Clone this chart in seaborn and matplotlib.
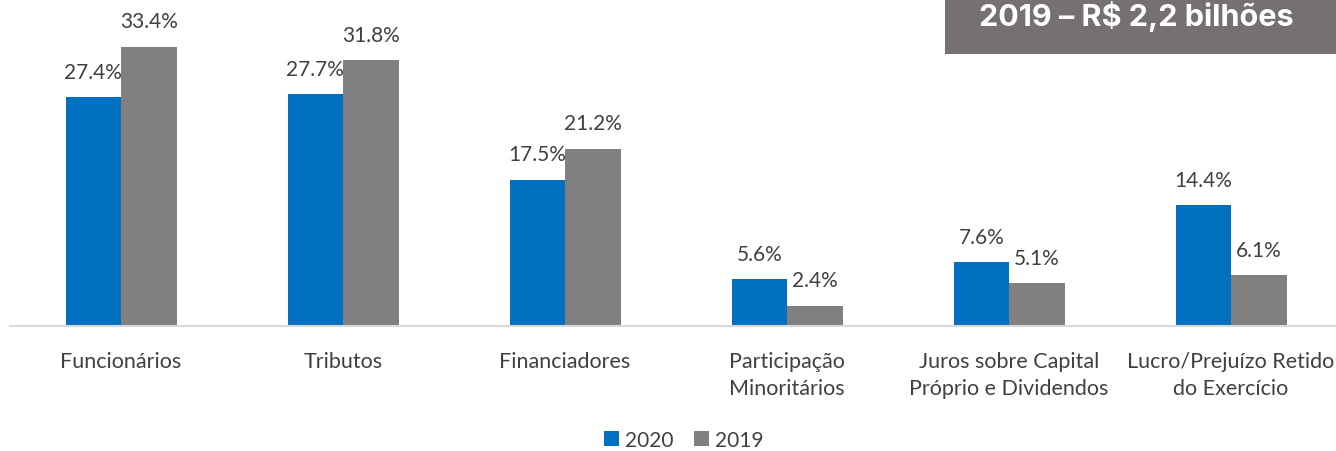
import pandas as pd
import seaborn as sns
import matplotlib.pyplot as plt

categorias = ["Funcionários", "Tributos", "Financiadores",
              "Participação\nMinoritários", "Juros sobre Capital\nPróprio e Dividendos",
              "Lucro/Prejuízo Retido\ndo Exercício"]
valores_2020 = [27.4, 27.7, 17.5, 5.6, 7.6, 14.4]
valores_2019 = [33.4, 31.8, 21.2, 2.4, 5.1, 6.1]
anos = ["2020", "2019"]
cores = {"2020": "#0070C0", "2019": "#808080"}

df = pd.DataFrame({
    "categoria": categorias * 2,
    "valor": valores_2020 + valores_2019,
    "ano": [anos[0]] * len(categorias) + [anos[1]] * len(categorias),
})

sns.set_style("white")
plt.rcParams["font.family"] = ["Lato", "DejaVu Sans"]

fig = plt.figure(figsize=(13.36, 4.52), dpi=100)
ax = fig.add_axes([0.0075, 0.277, 0.997, 0.723])

sns.barplot(data=df, x="categoria", y="valor", hue="ano", palette=cores,
            width=0.5, gap=0, saturation=1, linewidth=0, ax=ax, legend=True)

for cont in ax.containers:
    for bar in cont:
        h = bar.get_height()
        ax.annotate(f"{h:.1f}%", (bar.get_x() + bar.get_width() / 2, h),
                    xytext=(0, 11), textcoords="offset points",
                    ha="center", va="bottom", fontsize=15, color="#404040")

ax.set_xlim(-0.5, 5.5)
ax.set_ylim(0, 39.1)
ax.set_xlabel("")
ax.set_ylabel("")
ax.set_yticks([])
for s in ["top", "right", "left"]:
    ax.spines[s].set_visible(False)
ax.spines["bottom"].set_color("#D9D9D9")
ax.spines["bottom"].set_linewidth(1.5)
ax.tick_params(axis="x", length=0, pad=18, labelsize=15.5, labelcolor="#404040")
for t in ax.get_xticklabels():
    t.set_linespacing(1.45)

leg = ax.legend(loc="center", bbox_to_anchor=(0.506, -0.349), ncol=2,
                frameon=False, fontsize=15, handlelength=0.7, handleheight=0.7,
                handletextpad=0.3, columnspacing=1.0)
for t in leg.get_texts():
    t.set_color("#404040")

fig.patches.append(plt.Rectangle((945 / 1336, 1 - 55 / 452), 391 / 1336, 55 / 452,
                                 transform=fig.transFigure, facecolor="#767171",
                                 edgecolor="none", zorder=5))
fig.text(1136 / 1336, 1 - 17 / 452, "2019 – R$ 2,2 bilhões", ha="center", va="center",
         fontsize=22, fontweight="bold", color="white", family=["Inter", "DejaVu Sans"],
         zorder=6)

fig.savefig("out.png", dpi=100)
